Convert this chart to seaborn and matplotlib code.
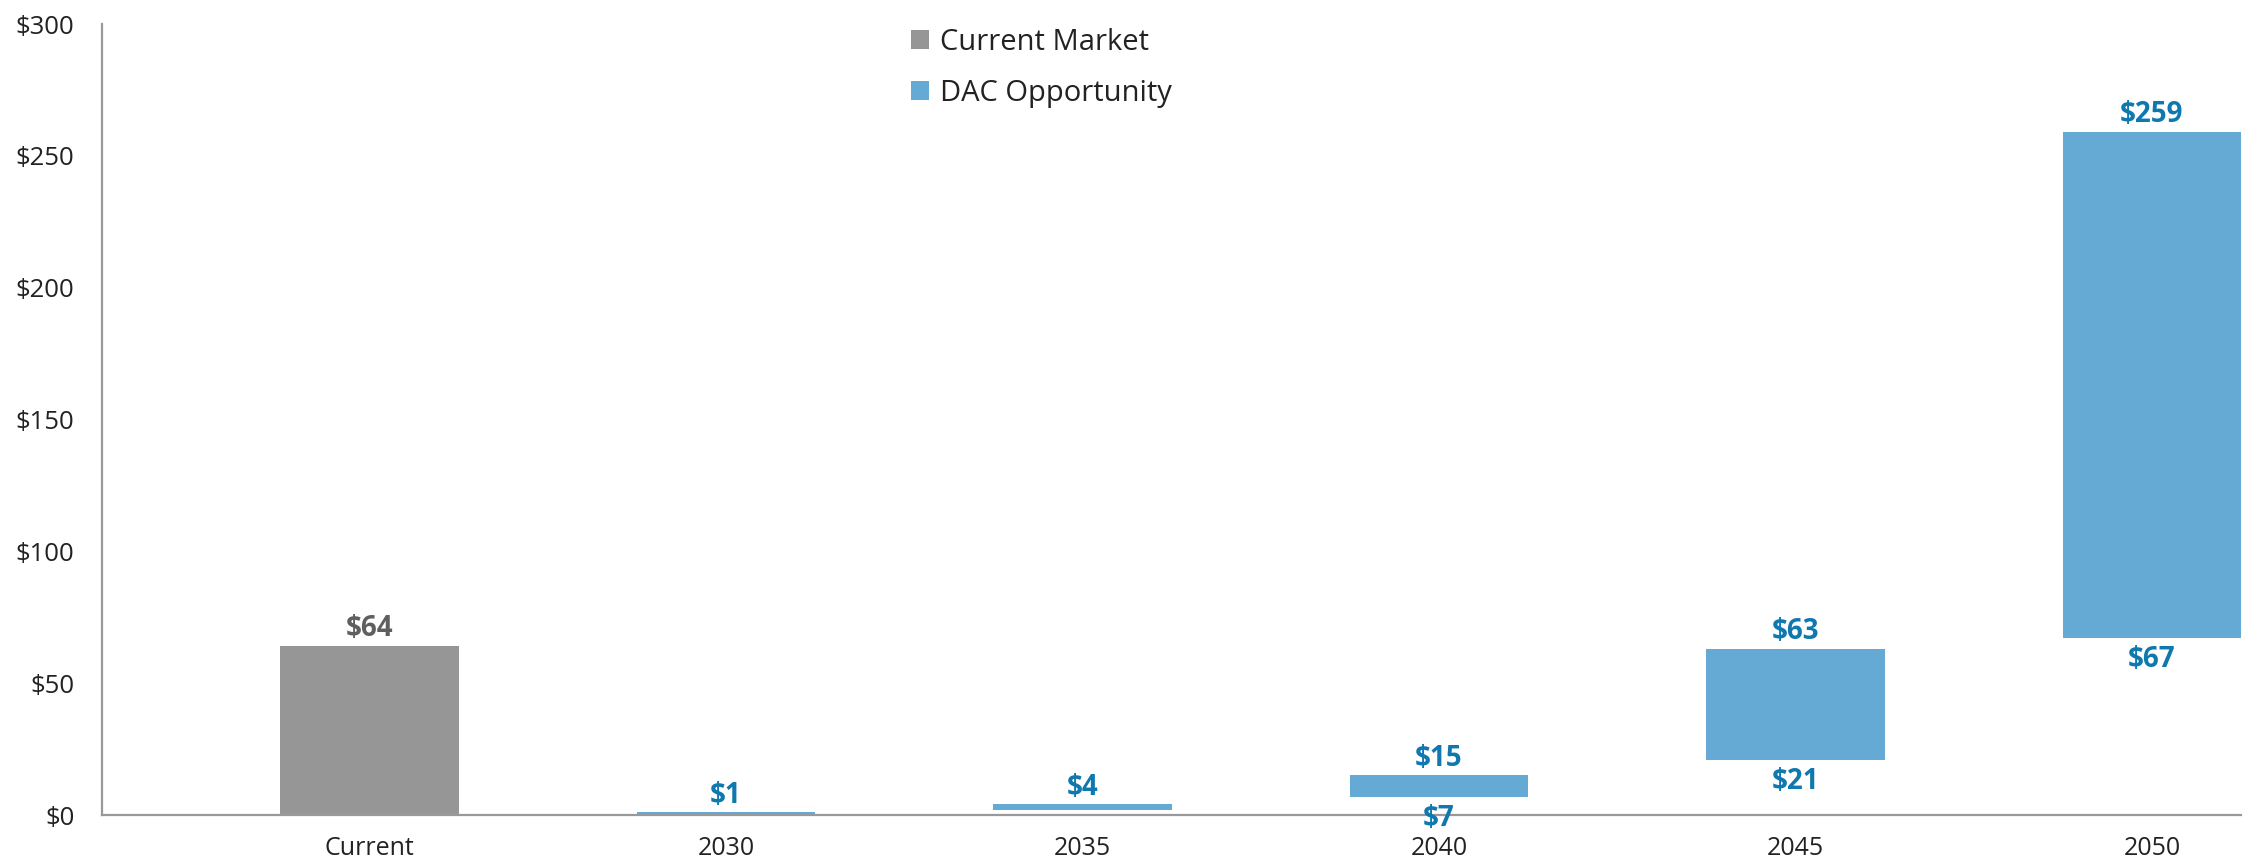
import matplotlib
matplotlib.use("Agg")
import matplotlib.pyplot as plt
from matplotlib.patches import Patch
from matplotlib.ticker import FuncFormatter
import seaborn as sns
import pandas as pd

# Market size ranges ($, low / high) by period
categories = ["Current", "2030", "2035", "2040", "2045", "2050"]
series = ["Current Market", "DAC Opportunity", "DAC Opportunity",
          "DAC Opportunity", "DAC Opportunity", "DAC Opportunity"]
low_values = [0, 0.5, 2, 7, 21, 67]
high_values = [64, 1, 4, 15, 63, 259]
# which ends carry a value label
show_low = [False, False, False, True, True, True]
show_high = [True, True, True, True, True, True]

colors = {"Current Market": "#969696", "DAC Opportunity": "#65A9D5"}
label_colors = {"Current Market": "#5f5f5f", "DAC Opportunity": "#0F78AE"}

df = pd.DataFrame({
    "category": categories,
    "series": series,
    "low": low_values,
    "high": high_values,
})
df["span"] = df["high"] - df["low"]

sns.set_style("white")
plt.rcParams["font.family"] = ["Open Sans", "DejaVu Sans"]

fig = plt.figure(figsize=(22.52, 8.61), dpi=100)
ax = fig.add_axes([0.0454, 0.0534, 0.9497, 0.9187])

sns.barplot(data=df, x="category", y="span", hue="series", order=categories,
            palette=colors, saturation=1, dodge=False, width=0.5,
            legend=False, linewidth=0, ax=ax)

# lift each bar so it floats between its low and high value
for bar in ax.patches:
    idx = int(round(bar.get_x() + bar.get_width() / 2))
    bar.set_y(df.loc[idx, "low"])
    bar.set_height(df.loc[idx, "span"])

for i, row in df.iterrows():
    c = label_colors[row["series"]]
    if show_high[i]:
        ax.annotate(f"${row['high']:.0f}", (i, row["high"]),
                    xytext=(0, 2), textcoords="offset points",
                    ha="center", va="bottom", fontsize=20,
                    fontweight="bold", color=c)
    if show_low[i]:
        ax.annotate(f"${row['low']:.0f}", (i, row["low"]),
                    xytext=(0, -5), textcoords="offset points",
                    ha="center", va="top", fontsize=20,
                    fontweight="bold", color=c)

ax.set_ylim(0, 300)
ax.set_xlim(-0.75, 5.25)
ax.set_yticks(range(0, 301, 50))
ax.yaxis.set_major_formatter(FuncFormatter(lambda v, _: f"${v:.0f}"))
ax.set_xlabel("")
ax.set_ylabel("")
ax.tick_params(axis="y", length=0, pad=20, labelsize=18.5, labelcolor="#222222")
ax.tick_params(axis="x", length=0, pad=15, labelsize=18, labelcolor="#222222")

for side in ["top", "right"]:
    ax.spines[side].set_visible(False)
for side in ["left", "bottom"]:
    ax.spines[side].set_color("#999999")
    ax.spines[side].set_linewidth(1.6)

handles = [Patch(facecolor=colors[s], edgecolor="none", label=s)
           for s in ["Current Market", "DAC Opportunity"]]
fig.legend(handles=handles, loc="upper left", bbox_to_anchor=(0.393, 0.998),
           frameon=False, fontsize=21, handlelength=0.62, handleheight=0.62,
           handletextpad=0.35, labelspacing=0.75, labelcolor="#222222")

fig.savefig("out.png", dpi=100)
